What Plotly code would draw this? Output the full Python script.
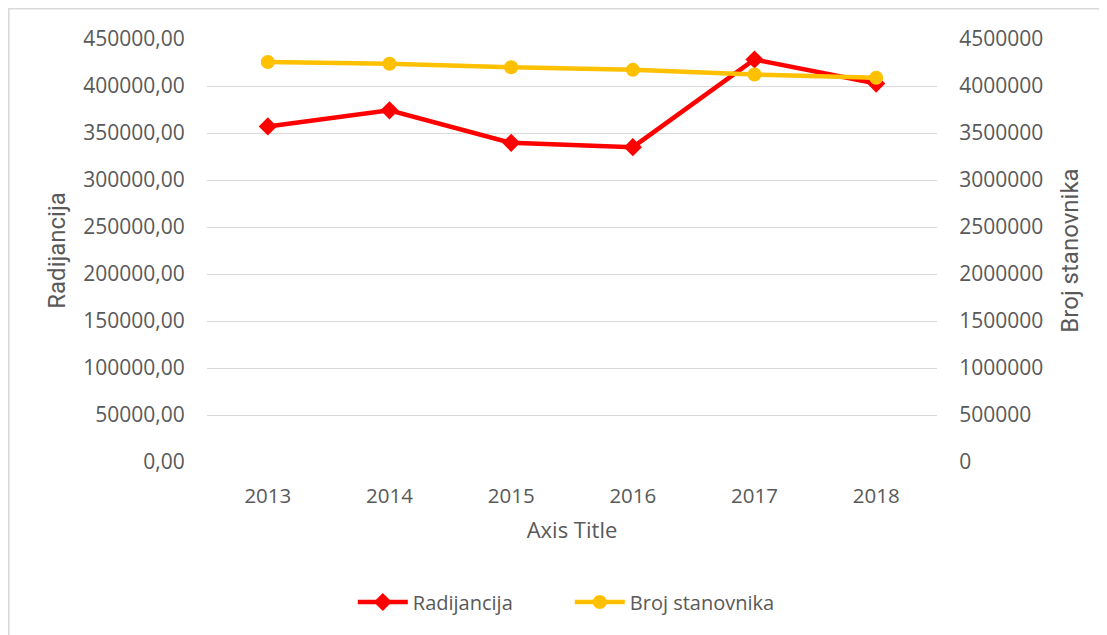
import plotly.graph_objects as go
from plotly.subplots import make_subplots

years = ["2013", "2014", "2015", "2016", "2017", "2018"]
radijancija = [357000, 374100, 339500, 334900, 428200, 402600]
broj_stanovnika = [4254000, 4236000, 4200000, 4172000, 4122000, 4087000]
left_ticks = [0, 50000, 100000, 150000, 200000, 250000, 300000, 350000, 400000, 450000]
right_ticks = [0, 500000, 1000000, 1500000, 2000000, 2500000, 3000000, 3500000, 4000000, 4500000]

# figure pixel frame (page has an 8px body margin)
W, H = 1107, 635
L, R, T, B = 199, 929, 31, 454

fig = make_subplots(specs=[[{"secondary_y": True}]])
fig.add_trace(go.Scatter(x=years, y=radijancija, name="Radijancija", mode="lines+markers",
                         line=dict(color="#FF0000", width=4.5),
                         marker=dict(symbol="diamond", size=14, color="#FF0000")),
              secondary_y=False)
fig.add_trace(go.Scatter(x=years, y=broj_stanovnika, name="Broj stanovnika", mode="lines+markers",
                         line=dict(color="#FFC000", width=4.5),
                         marker=dict(symbol="circle", size=14, color="#FFC000")),
              secondary_y=True)

font = "Open Sans, sans-serif"
narrow = "Liberation Sans Narrow, Roboto, sans-serif"
grey = "#595959"
fig.update_layout(
    width=W, height=H,
    margin=dict(l=L, r=W - R, t=T, b=H - B, autoexpand=False),
    paper_bgcolor="white", plot_bgcolor="white",
    separators=",.",
    font=dict(family=font, size=20, color=grey),
    showlegend=True,
    legend=dict(orientation="h", x=0.497, xanchor="center", y=-0.331, yanchor="middle",
                font=dict(family=font, size=20, color=grey), traceorder="normal",
                itemwidth=50, entrywidth=152, entrywidthmode="pixels"),
    xaxis=dict(domain=[0, 1]),
)
fig.update_xaxes(type="category", range=[-0.5, 5.5], showgrid=False, showline=False,
                 zeroline=False, ticks="outside", ticklen=15, tickcolor="rgba(0,0,0,0)",
                 tickfont=dict(family=font, size=20.5, color=grey),
                 title=dict(text="Axis Title", font=dict(family=font, size=22, color=grey), standoff=15))
fig.update_yaxes(range=[0, 450000], tickvals=left_ticks, tickformat=".2f",
                 showgrid=True, gridcolor="#D9D9D9", gridwidth=1.3, zeroline=False, showline=False,
                 ticks="outside", ticklen=17, tickcolor="rgba(0,0,0,0)",
                 tickfont=dict(family=font, size=21, color=grey),
                 title=dict(text="Radijancija", font=dict(family=narrow, size=24, color=grey), standoff=10),
                 secondary_y=False)
fig.update_yaxes(range=[0, 4500000], tickvals=right_ticks, tickformat="d",
                 showgrid=False, zeroline=False, showline=False,
                 ticks="outside", ticklen=17, tickcolor="rgba(0,0,0,0)",
                 tickfont=dict(family=font, size=21, color=grey),
                 title=dict(text="Broj stanovnika", font=dict(family=narrow, size=24, color=grey), standoff=18),
                 secondary_y=True)

pw, ph = R - L, B - T
fig.add_shape(type="rect", xref="paper", yref="paper",
              x0=(0.8 - L) / pw, x1=(W + 20 - L) / pw, y0=(B - H - 20) / ph, y1=(B - 0.8) / ph,
              line=dict(color="#D9D9D9", width=1.6), fillcolor="rgba(0,0,0,0)", layer="below")

fig.write_html("out.html")
